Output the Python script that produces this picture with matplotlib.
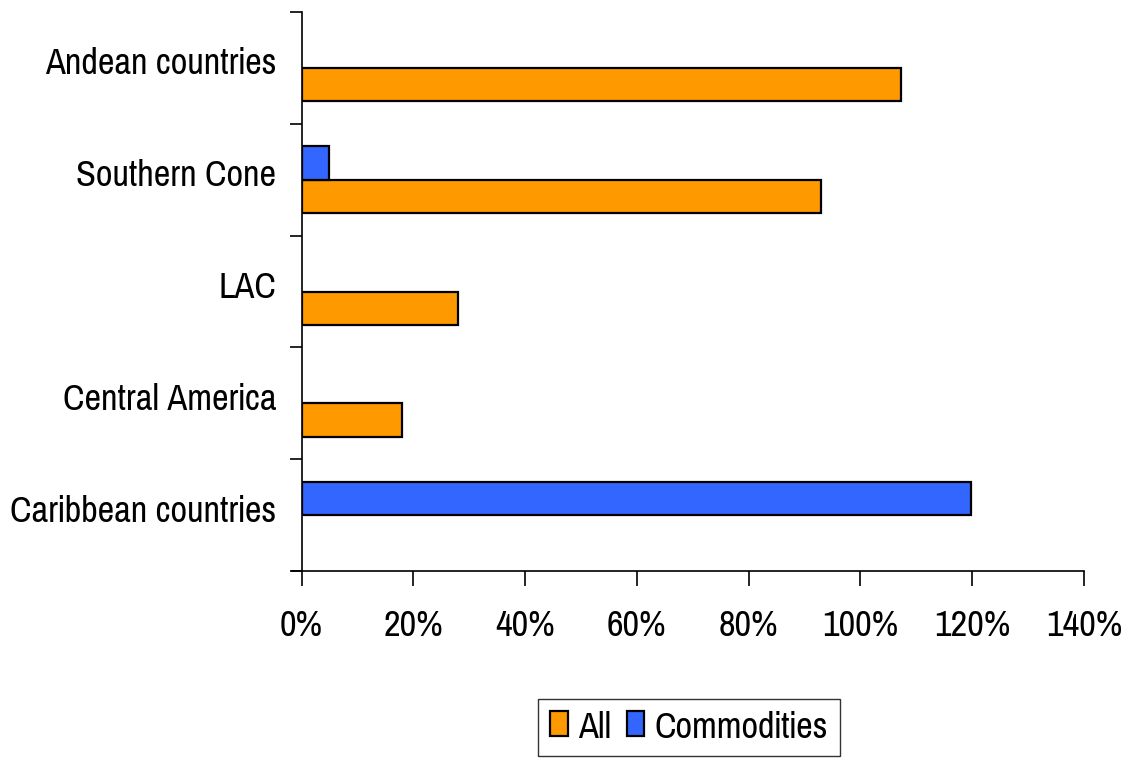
import matplotlib
matplotlib.use("Agg")
import matplotlib.pyplot as plt
import matplotlib.transforms as mtransforms
import numpy as np
from matplotlib.ticker import FuncFormatter

categories = ["Caribbean countries", "Central America", "LAC", "Southern Cone", "Andean countries"]
all_vals = [np.nan, 18.0, 28.0, 93.0, 107.2]
commodities_vals = [119.8, np.nan, np.nan, 5.0, np.nan]
series_names = ["All", "Commodities"]
xticks = [0, 20, 40, 60, 80, 100, 120, 140]

plt.rcParams['font.family'] = ['Pragati Narrow', 'Archivo Narrow', 'Liberation Sans', 'DejaVu Sans']
FS = 28.5

fig = plt.figure(figsize=(11.26, 7.66), dpi=100)
ax = fig.add_axes([301.5/1126, 1 - 571/766, (1084 - 301.5)/1126, (571 - 12)/766])

y = np.arange(len(categories))
h = 0.3
ax.barh(y - h/2, all_vals, height=h, color="#FF9900", edgecolor="black", linewidth=1.6, label=series_names[0])
ax.barh(y + h/2, commodities_vals, height=h, color="#3366FF", edgecolor="black", linewidth=1.6, label=series_names[1])

ax.set_xlim(0, 140)
ax.set_ylim(-0.5, len(categories) - 0.5)
ax.set_xticks(xticks)
ax.xaxis.set_major_formatter(FuncFormatter(lambda v, p: f"{int(v)}%"))
ax.set_yticks(np.arange(len(categories) + 1) - 0.5, minor=False)
ax.set_yticklabels([])
ax.set_yticks(y, minor=True)
ax.set_yticklabels(categories, minor=True)
ax.tick_params(axis='y', which='minor', length=0, labelsize=FS, pad=18)
ax.tick_params(axis='y', which='major', length=9, width=1.2, direction='out')
ax.tick_params(axis='x', length=11, width=1.2, direction='out', labelsize=FS, pad=16)

offset = mtransforms.ScaledTranslation(0, 5/72, fig.dpi_scale_trans)
for lbl in ax.get_yticklabels(minor=True):
    lbl.set_transform(lbl.get_transform() + offset)

for s in ['top', 'right']:
    ax.spines[s].set_visible(False)
ax.spines['left'].set_linewidth(1.2)
ax.spines['bottom'].set_linewidth(1.2)
ax.spines['bottom'].set_bounds(-1.7, 140)
ax.set_xlim(0, 140)

handles, labels = ax.get_legend_handles_labels()
leg = fig.legend(handles, labels, loc='upper left',
                 bbox_to_anchor=(538/1126, 1 - 699/766), ncol=2, frameon=True,
                 fancybox=False, edgecolor='black', fontsize=FS,
                 handlelength=0.45, handleheight=0.6, handletextpad=0.25,
                 columnspacing=0.4, borderpad=0.3, borderaxespad=0)
leg.get_frame().set_linewidth(1.0)

fig.savefig("out.png", dpi=100, facecolor='white')
